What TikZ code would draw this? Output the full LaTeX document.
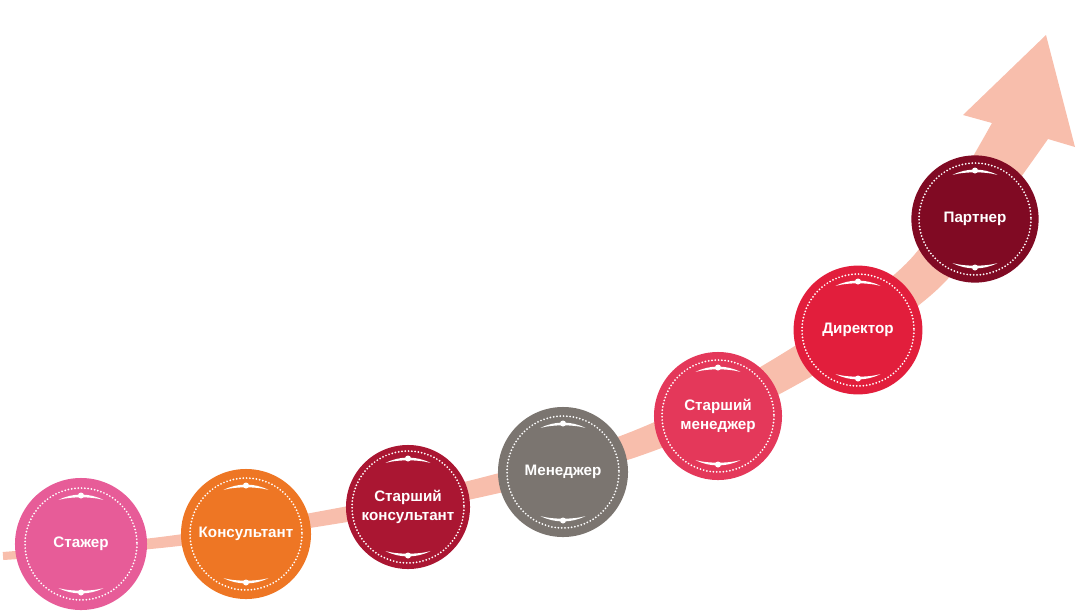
\documentclass[tikz,border=0pt]{standalone}
\usepackage{fontspec}
\setmainfont{Liberation Sans}
\usepackage{tikz}

\definecolor{bandpink}{RGB}{248,190,172}
\definecolor{cStazher}{RGB}{231,92,152}
\definecolor{cKonsultant}{RGB}{238,118,36}
\definecolor{cStKonsultant}{RGB}{170,22,50}
\definecolor{cMenedzher}{RGB}{123,117,112}
\definecolor{cStMenedzher}{RGB}{228,56,90}
\definecolor{cDirektor}{RGB}{226,30,60}
\definecolor{cPartner}{RGB}{128,10,35}

\begin{document}
\begin{tikzpicture}[x=0.025cm,y=-0.025cm,
	stage/.style={circle,minimum size=3.2cm,inner sep=0pt,text=white,align=center,
		font=\fontsize{10.8}{13.2}\selectfont\bfseries},
	seam/.style={white,line width=1.4pt,line cap=round,dash pattern=on 0pt off 2.35pt},
	band/.style={fill=bandpink}]
		  \useasboundingbox (0,0) rectangle (1088,614);
		  % rising band with the arrow head
		  \fill[band] plot[smooth,tension=0.6] coordinates {(2.7,552) (164.4,536.5) (323.7,510.6) (480.8,477.8) (638.3,428.9) (781.4,354.3) (903.6,266.1) (953.6,189.2) (992,123)}
		    -- (963,115) -- (1046,35) -- (1075,147)
		    -- plot[smooth,tension=0.6] coordinates {(1048,139) (996.4,210.8) (932.4,293.9) (798.6,383.7) (647.7,453.1) (485.2,496.2) (326.3,525.4) (165.6,547.5) (3.3,560)}
		    -- cycle;
		  % stages
		  \node[stage,fill=cStazher,minimum size=3.3cm] (stazher) at (81,544) {Стажер};
		  \node[stage,fill=cKonsultant,minimum size=3.25cm] (konsultant) at (246,534) {Консультант};
		  \node[stage,fill=cStKonsultant,minimum size=3.1cm] (stkonsultant) at (408,507) {Старший\\консультант};
		  \node[stage,fill=cMenedzher,minimum size=3.25cm] (menedzher) at (563,472) {Менеджер};
		  \node[stage,fill=cStMenedzher] (stmenedzher) at (718,416) {Старший\\менеджер};
		  \node[stage,fill=cDirektor,minimum size=3.22cm] (direktor) at (858,330) {Директор};
		  \node[stage,fill=cPartner,minimum size=3.18cm] (partner) at (975,219) {Партнер};
		  % dotted rim and the two ornaments
		  \foreach \n in {stazher,konsultant,stkonsultant,menedzher,stmenedzher,direktor,partner}{
		    \draw[seam] (\n.center) circle[radius=56];
		    \begin{scope}[shift={(\n.center)}]
		      \foreach \a in {90,270}{
		        \fill[white] (\a-27:49.5) .. controls (\a-9.2:51.9) and (\a+9.2:51.9) .. (\a+27:49.5)
		          .. controls (\a+12:48.6) and (\a-12:48.6) .. (\a-27:49.5);
		        \fill[white] (\a:48.5) circle[radius=3];
		      }
		    \end{scope}
		  }
		\end{tikzpicture}
\end{document}
